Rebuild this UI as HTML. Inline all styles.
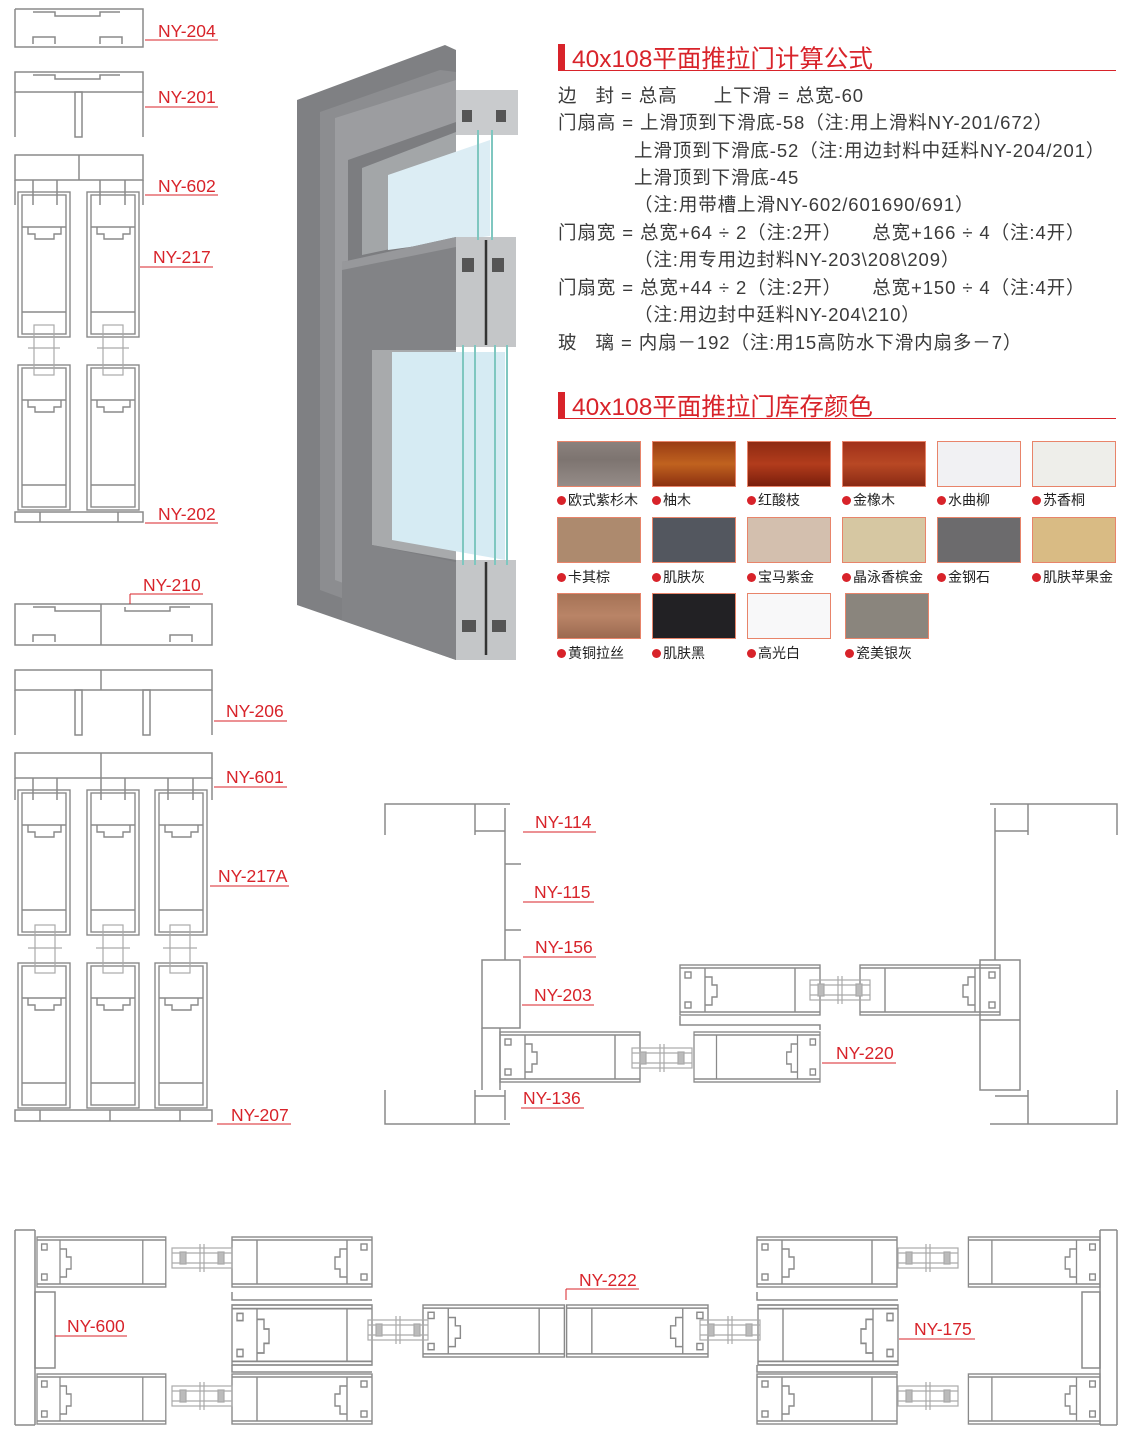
<!DOCTYPE html>
<html><head><meta charset="utf-8"><style>
html,body{margin:0;padding:0;background:#fff}
body{width:1144px;height:1437px;position:relative;overflow:hidden;font-family:"Liberation Sans","Noto Sans CJK SC",sans-serif}
svg{position:absolute;left:0;top:0}
.t{position:absolute;left:558px;font-size:18.5px;letter-spacing:0.9px;color:#3a3a3a;white-space:nowrap;line-height:1}
.h{position:absolute;left:558px;width:558px;height:26px;border-bottom:1.5px solid #d8232a}
.h:before{content:"";position:absolute;left:0;top:0;width:7px;height:26px;background:#d8232a}
.h span{position:absolute;left:14px;top:-4px;font-size:24.5px;color:#d8232a;white-space:nowrap}
.sw{position:absolute;width:84px;height:46px;box-sizing:border-box;border:1px solid #e8846a}
.lb{position:absolute;font-size:14px;color:#222;white-space:nowrap}
.lb:before{content:"";display:inline-block;width:9px;height:9px;border-radius:50%;background:#d8232a;margin-right:2px;vertical-align:0}
</style></head><body>
<svg width="1144" height="1437" viewBox="0 0 1144 1437">
<defs>
<g id="vs" fill="none" stroke="#8a8a8a" stroke-width="1.4">
 <rect x="0" y="0" width="52" height="145"/>
 <rect x="4" y="3" width="44" height="139"/>
 <line x1="4" y1="35" x2="48" y2="35"/><line x1="4" y1="120" x2="48" y2="120"/>
 <polyline points="10,35 10,42 17,42 17,47 36,47 36,42 43,42 43,35"/>
</g>
<g id="sb" fill="none" stroke="#8a8a8a" stroke-width="1.4">
 <rect x="0" y="0" width="140" height="50"/>
 <line x1="25" y1="3" x2="25" y2="47"/><line x1="115" y1="3" x2="115" y2="47"/>
 <line x1="0" y1="3" x2="140" y2="3"/><line x1="0" y1="47" x2="140" y2="47"/>
 <polyline points="25,12 32,12 32,20 37,20 37,32 32,32 32,40 25,40"/>
 <rect x="5" y="7" width="6" height="6"/><rect x="5" y="37" width="6" height="6"/>
</g>
<g id="gb" fill="none" stroke="#aaa" stroke-width="1.2">
 <rect x="0" y="-10" width="60" height="20"/>
 <line x1="0" y1="-5" x2="60" y2="-5"/><line x1="0" y1="5" x2="60" y2="5"/>
 <rect x="8" y="-6" width="6" height="12" fill="#bbb"/><rect x="46" y="-6" width="6" height="12" fill="#bbb"/>
 <line x1="28" y1="-14" x2="28" y2="14"/><line x1="32" y1="-14" x2="32" y2="14"/>
</g>
</defs>

<g fill="none" stroke="#8a8a8a" stroke-width="1.5">
 <polyline points="15,9 143,9 143,47 15,47 15,9"/>
 <polyline points="33,12 55,12 55,16 100,16 100,12 120,12"/>
 <polyline points="33,44 33,37 55,37 55,44"/><polyline points="100,44 100,37 122,37 122,44"/>
 <rect x="15" y="72" width="128" height="20"/>
 <polyline points="33,75 55,75 55,79 100,79 100,75 120,75"/>
 <line x1="15" y1="92" x2="15" y2="137"/><line x1="143" y1="92" x2="143" y2="137"/>
 <rect x="75" y="92" width="7" height="45"/>
 <rect x="15" y="155" width="128" height="25"/><line x1="79" y1="155" x2="79" y2="180"/>
 <line x1="15" y1="180" x2="15" y2="205"/><line x1="143" y1="180" x2="143" y2="205"/>
 <line x1="33" y1="180" x2="33" y2="205"/><line x1="57" y1="180" x2="57" y2="205"/>
 <line x1="100" y1="180" x2="100" y2="205"/><line x1="125" y1="180" x2="125" y2="205"/>
 <rect x="15" y="512" width="128" height="10"/>
 <line x1="40" y1="512" x2="40" y2="522"/><line x1="118" y1="512" x2="118" y2="522"/>
</g>
<use href="#vs" x="18" y="192"/><use href="#vs" x="87" y="192"/>
<use href="#vs" x="18" y="365"/><use href="#vs" x="87" y="365"/>
<g fill="none" stroke="#aaa" stroke-width="1.2">
 <rect x="34" y="325" width="20" height="50"/><rect x="103" y="325" width="20" height="50"/>
 <line x1="28" y1="348" x2="60" y2="348"/><line x1="97" y1="348" x2="129" y2="348"/>
</g>

<g fill="none" stroke="#8a8a8a" stroke-width="1.5">
 <rect x="15" y="604" width="197" height="41"/><line x1="101" y1="604" x2="101" y2="645"/>
 <polyline points="33,607 55,607 55,611 100,611"/><polyline points="125,607 125,611 170,611 170,607 190,607"/>
 <polyline points="33,642 33,635 55,635 55,642"/><polyline points="170,642 170,635 192,635 192,642"/>
 <rect x="15" y="670" width="197" height="20"/><line x1="101" y1="670" x2="101" y2="690"/>
 <line x1="15" y1="690" x2="15" y2="735"/><line x1="212" y1="690" x2="212" y2="735"/>
 <rect x="75" y="690" width="7" height="45"/><rect x="143" y="690" width="7" height="45"/>
 <rect x="15" y="753" width="197" height="25"/><line x1="101" y1="753" x2="101" y2="778"/>
 <line x1="15" y1="778" x2="15" y2="800"/><line x1="212" y1="778" x2="212" y2="800"/>
 <line x1="33" y1="778" x2="33" y2="800"/><line x1="57" y1="778" x2="57" y2="800"/>
 <line x1="101" y1="778" x2="101" y2="800"/><line x1="125" y1="778" x2="125" y2="800"/>
 <line x1="168" y1="778" x2="168" y2="800"/><line x1="193" y1="778" x2="193" y2="800"/>
 <rect x="15" y="1110" width="197" height="11"/>
 <line x1="40" y1="1110" x2="40" y2="1121"/><line x1="110" y1="1110" x2="110" y2="1121"/><line x1="180" y1="1110" x2="180" y2="1121"/>
</g>
<use href="#vs" x="18" y="790"/><use href="#vs" x="87" y="790"/><use href="#vs" x="155" y="790"/>
<use href="#vs" x="18" y="963"/><use href="#vs" x="87" y="963"/><use href="#vs" x="155" y="963"/>
<g fill="none" stroke="#aaa" stroke-width="1.2">
 <rect x="35" y="925" width="20" height="48"/><rect x="103" y="925" width="20" height="48"/><rect x="170" y="925" width="20" height="48"/>
 <line x1="28" y1="948" x2="62" y2="948"/><line x1="96" y1="948" x2="130" y2="948"/><line x1="163" y1="948" x2="197" y2="948"/>
</g>

<polygon points="297,100 445,45 456,50 456,660 297,605" fill="#7f8083"/>
<polygon points="320,112 440,70 456,72 456,640 320,590" fill="#8c8d90"/>
<polygon points="335,118 456,80 456,625 335,580" fill="#9c9da0"/>
<polygon points="348,160 456,122 456,620 348,580" fill="#7c7d80"/>
<polygon points="362,168 456,132 456,235 362,255" fill="#a3a6a8"/>
<polygon points="388,175 490,140 490,236 388,250" fill="#dcedf4"/>
<polygon points="342,262 456,237 456,350 342,350" fill="#828386"/>
<polygon points="342,262 456,237 456,247 342,270" fill="#97989b"/>
<polygon points="372,350 456,350 456,560 372,545" fill="#a8aaac"/>
<polygon points="392,352 505,352 505,560 392,540" fill="#d6ebf3"/>
<polygon points="342,350 372,350 372,545 456,562 456,660 342,620" fill="#838487"/>
<rect x="456" y="90" width="62" height="45" fill="#c9cbcd"/>
<rect x="456" y="237" width="60" height="110" fill="#c4c6c8"/>
<rect x="456" y="560" width="60" height="100" fill="#c4c6c8"/>
<g stroke="#333" stroke-width="2.5"><line x1="486" y1="240" x2="486" y2="345"/><line x1="486" y1="562" x2="486" y2="655"/></g>
<g stroke="#7fc7c0" stroke-width="2"><line x1="478" y1="130" x2="478" y2="240"/><line x1="492" y1="130" x2="492" y2="240"/>
<line x1="463" y1="345" x2="463" y2="565"/><line x1="475" y1="345" x2="475" y2="565"/><line x1="495" y1="345" x2="495" y2="565"/><line x1="507" y1="345" x2="507" y2="565"/></g>
<g fill="#555"><rect x="462" y="258" width="12" height="14"/><rect x="492" y="258" width="12" height="14"/><rect x="462" y="620" width="14" height="12"/><rect x="492" y="620" width="14" height="12"/><rect x="462" y="110" width="10" height="12"/><rect x="496" y="110" width="10" height="12"/></g>

<g fill="none" stroke="#8a8a8a" stroke-width="1.5">
 <polyline points="385,835 385,804 510,804 Q521,804 521,815 L521,960"/>
 <line x1="505" y1="808" x2="505" y2="960"/>
 <polyline points="475,804 475,835"/><line x1="475" y1="831" x2="505" y2="831"/>
 <line x1="505" y1="864" x2="521" y2="864"/><line x1="505" y1="930" x2="521" y2="930"/>
 <rect x="482" y="960" width="38" height="68"/>
 <line x1="482" y1="1028" x2="482" y2="1090"/><line x1="500" y1="1028" x2="500" y2="1090"/>
 <polyline points="385,1090 385,1124 510,1124 Q521,1124 521,1112 L521,1090"/><line x1="475" y1="1090" x2="475" y2="1124"/>
 <line x1="475" y1="1096" x2="505" y2="1096"/><line x1="505" y1="1090" x2="505" y2="1120"/>
 <polyline points="1117,835 1117,804 990,804 Q979,804 979,815 L979,960"/>
 <line x1="995" y1="808" x2="995" y2="960"/><line x1="1028" y1="804" x2="1028" y2="835"/><line x1="995" y1="831" x2="1028" y2="831"/>
 <rect x="980" y="960" width="40" height="130"/><line x1="980" y1="1020" x2="1020" y2="1020"/>
 <polyline points="1117,1090 1117,1124 990,1124 Q979,1124 979,1112 L979,1090"/><line x1="1028" y1="1090" x2="1028" y2="1124"/><line x1="995" y1="1096" x2="1028" y2="1096"/>
 <polyline points="680,1016 680,1025 820,1025 820,1030"/>
</g>
<use href="#sb" x="680" y="965"/>
<use href="#sb" transform="translate(1000,965) scale(-1,1)"/>
<use href="#sb" x="500" y="1032"/>
<use href="#sb" transform="translate(820,1032) scale(-1,1) scale(0.9,1)"/>
<use href="#gb" x="810" y="990"/><use href="#gb" x="632" y="1058"/>

<g fill="none" stroke="#8a8a8a" stroke-width="1.5">
 <polyline points="15,1230 15,1425"/><line x1="15" y1="1230" x2="35" y2="1230"/><line x1="35" y1="1230" x2="35" y2="1425"/><line x1="15" y1="1425" x2="35" y2="1425"/>
 <rect x="35" y="1292" width="20" height="76"/>
 <line x1="1117" y1="1230" x2="1117" y2="1425"/><line x1="1100" y1="1230" x2="1117" y2="1230"/><line x1="1100" y1="1230" x2="1100" y2="1425"/><line x1="1100" y1="1425" x2="1117" y2="1425"/>
 <rect x="1082" y="1292" width="18" height="76"/>
 <polyline points="232,1292 232,1300 372,1300"/><polyline points="232,1365 232,1372 372,1372"/>
 <polyline points="757,1292 757,1300 898,1300"/><polyline points="757,1365 757,1372 898,1372"/>
</g>
<use href="#sb" transform="translate(37,1237) scale(0.92,1)"/>
<use href="#sb" transform="translate(372,1237) scale(-1,1)"/>
<use href="#sb" transform="translate(232,1305) scale(1,1.2)"/>
<use href="#sb" transform="translate(37,1374) scale(0.92,1)"/>
<use href="#sb" transform="translate(372,1374) scale(-1,1)"/>
<use href="#sb" transform="translate(423,1305) scale(1.01,1.04)"/>
<use href="#sb" transform="translate(708,1305) scale(-1.01,1.04)"/>
<use href="#sb" x="757" y="1237"/>
<use href="#sb" transform="translate(1100,1237) scale(-0.94,1)"/>
<use href="#sb" transform="translate(898,1305) scale(-1,1.2)"/>
<use href="#sb" x="757" y="1374"/>
<use href="#sb" transform="translate(1100,1374) scale(-0.94,1)"/>
<use href="#gb" x="172" y="1258"/><use href="#gb" x="172" y="1396"/>
<use href="#gb" x="368" y="1330"/><use href="#gb" x="700" y="1330"/>
<use href="#gb" x="898" y="1258"/><use href="#gb" x="898" y="1396"/>

<g font-family="Liberation Sans, sans-serif" font-size="17.5" fill="#d8232a">
 <text x="158" y="37">NY-204</text><text x="158" y="103">NY-201</text><text x="158" y="192">NY-602</text>
 <text x="153" y="263">NY-217</text><text x="158" y="520">NY-202</text>
 <text x="143" y="591">NY-210</text><text x="226" y="717">NY-206</text><text x="226" y="783">NY-601</text>
 <text x="218" y="882">NY-217A</text><text x="231" y="1121">NY-207</text>
 <text x="535" y="828">NY-114</text><text x="534" y="898">NY-115</text><text x="535" y="953">NY-156</text>
 <text x="534" y="1001">NY-203</text><text x="523" y="1104">NY-136</text><text x="836" y="1059">NY-220</text>
 <text x="67" y="1332">NY-600</text><text x="579" y="1286">NY-222</text><text x="914" y="1335">NY-175</text>
</g>
<g stroke="#d8232a" stroke-width="1" fill="#d8232a">
 <line x1="145" y1="40" x2="218" y2="40"/><line x1="145" y1="107" x2="218" y2="107"/><line x1="145" y1="195" x2="218" y2="195"/>
 <line x1="140" y1="267" x2="213" y2="267"/><line x1="145" y1="523" x2="218" y2="523"/>
 <line x1="130" y1="594" x2="203" y2="594"/><line x1="130" y1="594" x2="130" y2="604"/>
 <line x1="214" y1="721" x2="287" y2="721"/><line x1="214" y1="787" x2="287" y2="787"/>
 <line x1="210" y1="886" x2="289" y2="886"/><line x1="217" y1="1124" x2="291" y2="1124"/>
 <line x1="523" y1="832" x2="596" y2="832"/><line x1="523" y1="902" x2="594" y2="902"/><line x1="523" y1="957" x2="596" y2="957"/>
 <line x1="522" y1="1005" x2="594" y2="1005"/><line x1="521" y1="1108" x2="584" y2="1108"/><line x1="822" y1="1063" x2="896" y2="1063"/>
 <line x1="55" y1="1336" x2="127" y2="1336"/><line x1="566" y1="1289" x2="639" y2="1289"/><line x1="566" y1="1289" x2="566" y2="1300"/>
 <line x1="899" y1="1339" x2="975" y2="1339"/>
</g>
</svg>

<div class="h" style="top:44px"><span>40x108平面推拉门计算公式</span></div>
<div class="t" style="top:87px">边&nbsp;&nbsp;&nbsp;封 = 总高&nbsp;&nbsp;&nbsp;&nbsp;&nbsp;&nbsp;上下滑 = 总宽-60</div>
<div class="t" style="top:114px">门扇高 = 上滑顶到下滑底-58（注:用上滑料NY-201/672）</div>
<div class="t" style="top:142px;left:634px">上滑顶到下滑底-52（注:用边封料中廷料NY-204/201）</div>
<div class="t" style="top:169px;left:634px">上滑顶到下滑底-45</div>
<div class="t" style="top:196px;left:634px">（注:用带槽上滑NY-602/601690/691）</div>
<div class="t" style="top:224px">门扇宽 = 总宽+64 ÷ 2（注:2开）&nbsp;&nbsp;&nbsp;&nbsp;&nbsp;总宽+166 ÷ 4（注:4开）</div>
<div class="t" style="top:251px;left:634px">（注:用专用边封料NY-203\208\209）</div>
<div class="t" style="top:279px">门扇宽 = 总宽+44 ÷ 2（注:2开）&nbsp;&nbsp;&nbsp;&nbsp;&nbsp;总宽+150 ÷ 4（注:4开）</div>
<div class="t" style="top:306px;left:634px">（注:用边封中廷料NY-204\210）</div>
<div class="t" style="top:334px">玻&nbsp;&nbsp;&nbsp;璃 = 内扇－192（注:用15高防水下滑内扇多－7）</div>

<div class="h" style="top:392px"><span>40x108平面推拉门库存颜色</span></div>

<div class="sw" style="left:557px;top:441px;background:linear-gradient(#8a817d,#7d7470 40%,#958c88)"></div>
<div class="sw" style="left:652px;top:441px;background:linear-gradient(#9a3c14,#c0621f 50%,#8c3010)"></div>
<div class="sw" style="left:747px;top:441px;background:linear-gradient(#8e2a12,#b23c1c 50%,#7a1e0c)"></div>
<div class="sw" style="left:842px;top:441px;background:linear-gradient(#a0301a,#b84824 50%,#8a2a14)"></div>
<div class="sw" style="left:937px;top:441px;background:#f1f1f3"></div>
<div class="sw" style="left:1032px;top:441px;background:#eeeeea"></div>
<div class="sw" style="left:557px;top:517px;background:#ad8a6e"></div>
<div class="sw" style="left:652px;top:517px;background:#53575f"></div>
<div class="sw" style="left:747px;top:517px;background:#d3bfae"></div>
<div class="sw" style="left:842px;top:517px;background:#d6c7a2"></div>
<div class="sw" style="left:937px;top:517px;background:#6c6b6d"></div>
<div class="sw" style="left:1032px;top:517px;background:#d9bb84"></div>
<div class="sw" style="left:557px;top:593px;background:linear-gradient(#a67356,#b98467 50%,#9c6a50)"></div>
<div class="sw" style="left:652px;top:593px;background:#222124"></div>
<div class="sw" style="left:747px;top:593px;background:#f8f8f9"></div>
<div class="sw" style="left:845px;top:593px;background:#8a857d"></div>

<div class="lb" style="left:557px;top:490px">欧式紫杉木</div>
<div class="lb" style="left:652px;top:490px">柚木</div>
<div class="lb" style="left:747px;top:490px">红酸枝</div>
<div class="lb" style="left:842px;top:490px">金橡木</div>
<div class="lb" style="left:937px;top:490px">水曲柳</div>
<div class="lb" style="left:1032px;top:490px">苏香桐</div>
<div class="lb" style="left:557px;top:567px">卡其棕</div>
<div class="lb" style="left:652px;top:567px">肌肤灰</div>
<div class="lb" style="left:747px;top:567px">宝马紫金</div>
<div class="lb" style="left:842px;top:567px">晶泳香槟金</div>
<div class="lb" style="left:937px;top:567px">金钢石</div>
<div class="lb" style="left:1032px;top:567px">肌肤苹果金</div>
<div class="lb" style="left:557px;top:643px">黄铜拉丝</div>
<div class="lb" style="left:652px;top:643px">肌肤黑</div>
<div class="lb" style="left:747px;top:643px">高光白</div>
<div class="lb" style="left:845px;top:643px">瓷美银灰</div>
</body></html>
